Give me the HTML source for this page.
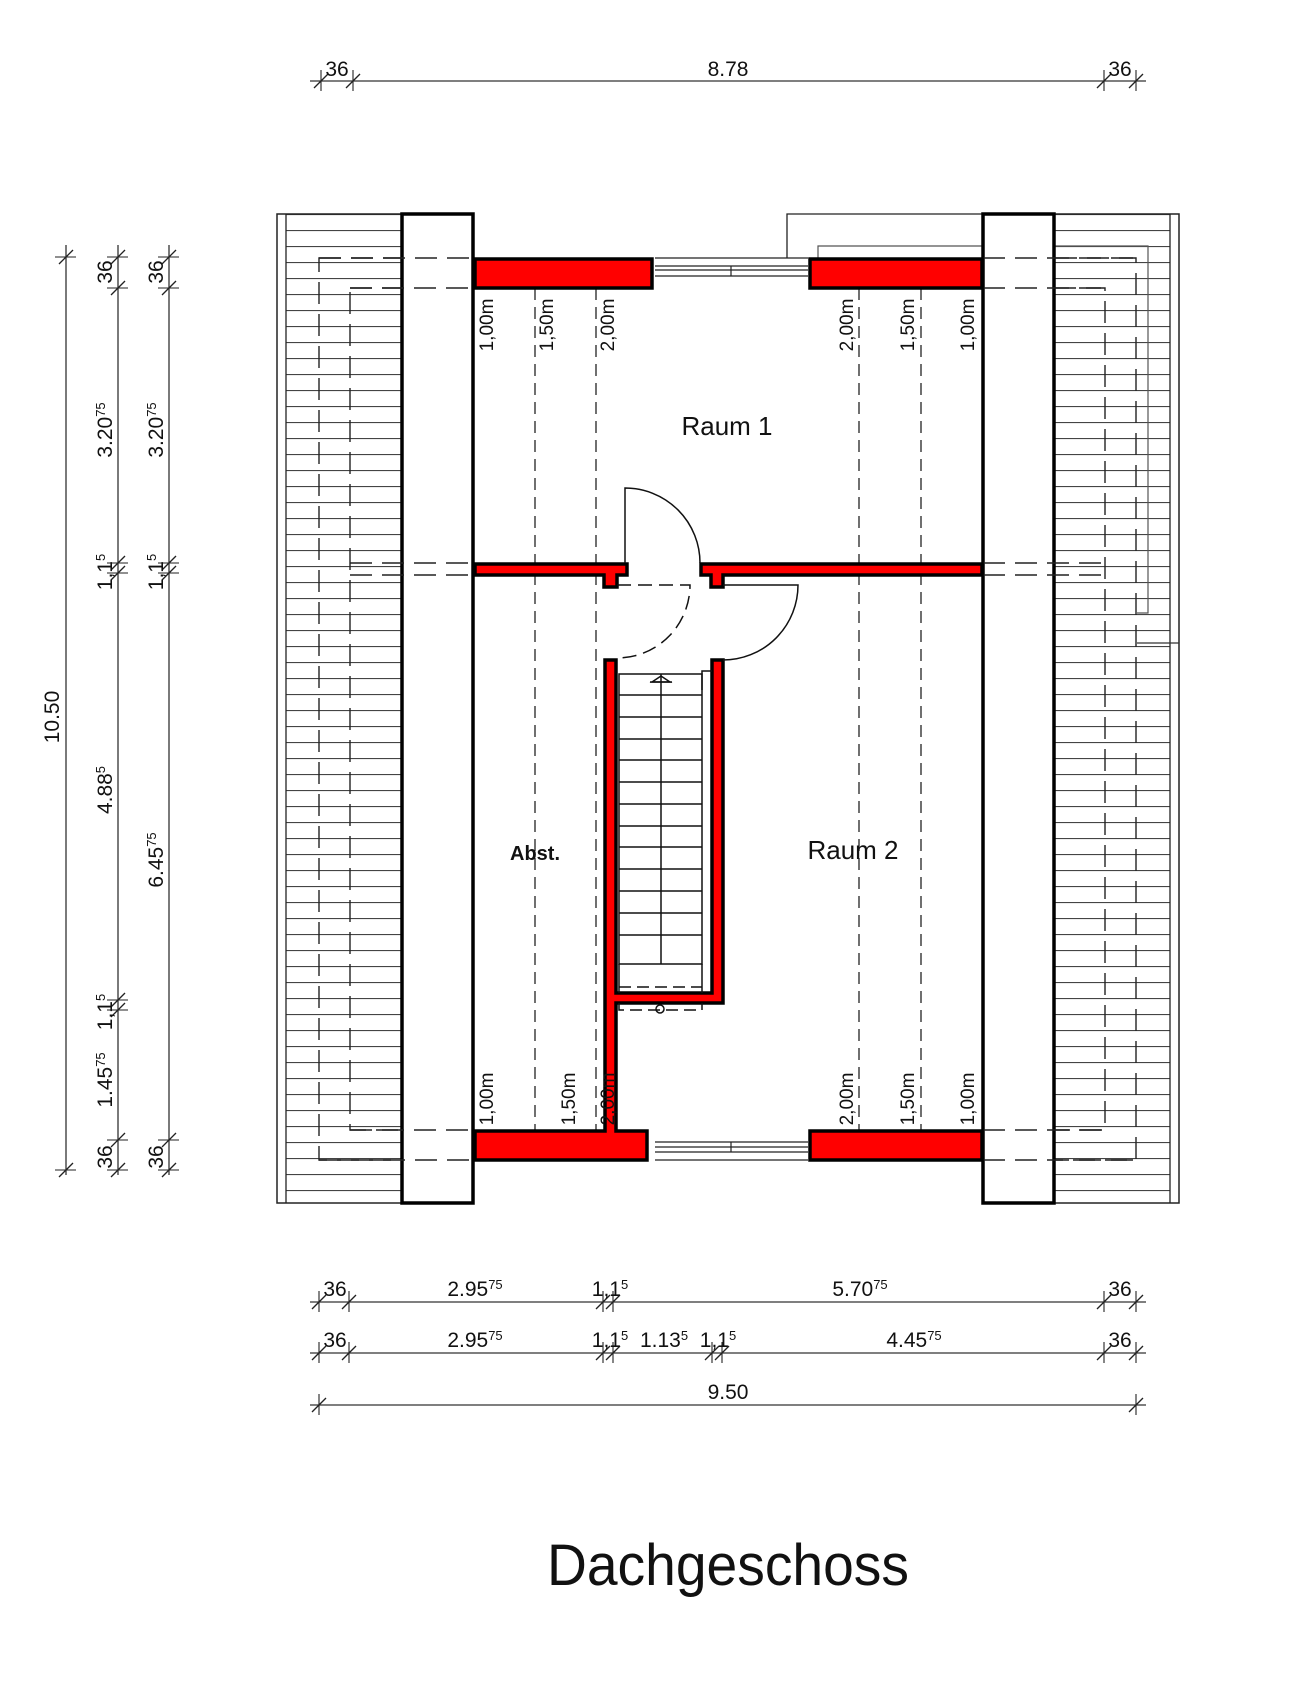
<!DOCTYPE html>
<html><head><meta charset="utf-8"><style>
html,body{margin:0;padding:0;background:#fff;}
svg{display:block}
text{font-family:"Liberation Sans Narrow","Liberation Sans",sans-serif;fill:#111;}
</style></head><body>
<svg width="1303" height="1700" viewBox="0 0 1303 1700" xmlns="http://www.w3.org/2000/svg">
<defs>
<pattern id="hatch" x="0" y="214" width="10" height="16" patternUnits="userSpaceOnUse">
<line x1="0" y1="0.5" x2="10" y2="0.5" stroke="#444" stroke-width="1.2"/>
</pattern>
<g id="tk"><line x1="-7" y1="7" x2="7" y2="-7" stroke="#222" stroke-width="1.3"/><line x1="0" y1="-11" x2="0" y2="10" stroke="#222" stroke-width="1.1"/></g>
<g id="tv"><line x1="-7" y1="7" x2="7" y2="-7" stroke="#222" stroke-width="1.3"/><line x1="-11" y1="0" x2="10" y2="0" stroke="#222" stroke-width="1.1"/></g>
</defs>

<!-- roofs -->
<rect x="277" y="214" width="125" height="989" fill="url(#hatch)"/>
<rect x="1054" y="214" width="125" height="989" fill="url(#hatch)"/>
<rect x="277" y="214" width="9" height="989" fill="#fff"/>
<rect x="1170" y="214" width="9" height="989" fill="#fff"/>
<rect x="277" y="214" width="125" height="989" fill="none" stroke="#222" stroke-width="1.5"/>
<line x1="286" y1="214" x2="286" y2="1203" stroke="#222" stroke-width="1.3"/>
<rect x="1054" y="214" width="125" height="989" fill="none" stroke="#222" stroke-width="1.5"/>
<line x1="1170" y1="214" x2="1170" y2="1203" stroke="#222" stroke-width="1.3"/>

<!-- dashed rects -->
<g fill="none" stroke="#222" stroke-width="1.4" stroke-dasharray="22,10">
<rect x="319" y="258" width="817" height="902"/>
<rect x="350" y="288" width="755" height="842"/>
</g>

<!-- interior white -->
<rect x="402" y="214" width="652" height="989" fill="#fff"/>

<!-- upper right outline -->
<polyline points="787,258 787,214 1054,214" fill="none" stroke="#222" stroke-width="1.3"/>
<polyline points="818,258 818,246 1148,246 1148,613 1137,613" fill="none" stroke="#555" stroke-width="1.2"/>
<line x1="1137" y1="643" x2="1179" y2="643" stroke="#333" stroke-width="1.2"/>

<!-- columns -->
<rect x="402" y="214" width="71" height="989" fill="#fff" stroke="#000" stroke-width="3.5"/>
<rect x="983" y="214" width="71" height="989" fill="#fff" stroke="#000" stroke-width="3.5"/>
<g stroke="#222" stroke-width="1.4" stroke-dasharray="22,10">
<line x1="319" y1="258" x2="473" y2="258"/><line x1="350" y1="288" x2="473" y2="288"/>
<line x1="983" y1="258" x2="1136" y2="258"/><line x1="983" y1="288" x2="1105" y2="288"/>
<line x1="319" y1="1160" x2="473" y2="1160"/><line x1="350" y1="1130" x2="473" y2="1130"/>
<line x1="983" y1="1160" x2="1136" y2="1160"/><line x1="983" y1="1130" x2="1105" y2="1130"/>
<line x1="350" y1="563" x2="473" y2="563"/><line x1="350" y1="575" x2="473" y2="575"/>
<line x1="983" y1="563" x2="1105" y2="563"/><line x1="983" y1="575" x2="1105" y2="575"/>
</g>

<!-- height dashed lines -->
<g stroke="#222" stroke-width="1.3" stroke-dasharray="12,7">
<line x1="535" y1="288" x2="535" y2="1130"/>
<line x1="596" y1="288" x2="596" y2="1130"/>
<line x1="859" y1="288" x2="859" y2="1130"/>
<line x1="921" y1="288" x2="921" y2="1130"/>
</g>

<!-- windows -->
<g stroke="#222" stroke-width="1.2" fill="none">
<line x1="655" y1="258" x2="808" y2="258"/>
<line x1="655" y1="266" x2="808" y2="266"/><line x1="655" y1="270" x2="808" y2="270"/><line x1="655" y1="276" x2="808" y2="276"/>
<line x1="731" y1="266" x2="731" y2="276"/>
<line x1="655" y1="1142" x2="808" y2="1142"/><line x1="655" y1="1147" x2="808" y2="1147"/><line x1="655" y1="1152" x2="808" y2="1152"/>
<line x1="655" y1="1160" x2="808" y2="1160"/>
<line x1="731" y1="1142" x2="731" y2="1152"/>
</g>

<!-- red walls -->
<g fill="#ff0000" stroke="#000" stroke-width="3.5">
<rect x="475" y="259" width="177" height="29"/>
<rect x="810" y="259" width="172" height="29"/>
<path d="M475,1131 L605,1131 L605,660 L616,660 L616,993 L712,993 L712,660 L723,660 L723,1003 L616,1003 L616,1131 L647,1131 L647,1160 L475,1160 Z"/>
<rect x="810" y="1131" width="172" height="29"/>
<path d="M475,564 L627,564 L627,575 L617,575 L617,587 L604,587 L604,575 L475,575 Z"/>
<path d="M701,564 L982,564 L982,575 L723,575 L723,587 L711,587 L711,575 L701,575 Z"/>
</g>

<!-- doors -->
<g fill="none" stroke="#111" stroke-width="1.5">
<path d="M625,563 L625,488 A75,75 0 0 1 700,563"/>
<path d="M723,585 L798,585 A75,75 0 0 1 723,660"/>
<path d="M617,585 L690,585 A73,73 0 0 1 617,658" stroke-dasharray="14,7"/>
</g>

<!-- stairs -->
<g stroke="#111" stroke-width="1.5" fill="none">
<rect x="619" y="674" width="83" height="290"/>
<line x1="661" y1="674" x2="661" y2="964"/>
<polyline points="702,690 702,671 712,671"/>
<line x1="619" y1="695" x2="702" y2="695"/><line x1="619" y1="717" x2="702" y2="717"/>
<line x1="619" y1="739" x2="702" y2="739"/><line x1="619" y1="760" x2="702" y2="760"/>
<line x1="619" y1="782" x2="702" y2="782"/><line x1="619" y1="804" x2="702" y2="804"/>
<line x1="619" y1="826" x2="702" y2="826"/><line x1="619" y1="847" x2="702" y2="847"/>
<line x1="619" y1="869" x2="702" y2="869"/><line x1="619" y1="891" x2="702" y2="891"/>
<line x1="619" y1="913" x2="702" y2="913"/><line x1="619" y1="935" x2="702" y2="935"/>
<line x1="619" y1="964" x2="619" y2="993"/><line x1="702" y1="964" x2="702" y2="993"/>
<line x1="619" y1="987" x2="702" y2="987" stroke-dasharray="12,6"/>
<path d="M619,1003 L619,1010 L702,1010 L702,1003" stroke-dasharray="12,6"/>
<path d="M652,682 L661,676 L670,682 Z"/><line x1="650" y1="682" x2="672" y2="682"/>
<circle cx="660" cy="1009" r="4"/>
</g>

<!-- height labels -->
<g font-size="19" text-anchor="middle">
<text transform="translate(493,325) rotate(-90)">1,00m</text>
<text transform="translate(553,325) rotate(-90)">1,50m</text>
<text transform="translate(614,325) rotate(-90)">2,00m</text>
<text transform="translate(853,325) rotate(-90)">2,00m</text>
<text transform="translate(914,325) rotate(-90)">1,50m</text>
<text transform="translate(974,325) rotate(-90)">1,00m</text>
<text transform="translate(493,1099) rotate(-90)">1,00m</text>
<text transform="translate(575,1099) rotate(-90)">1,50m</text>
<text transform="translate(614,1099) rotate(-90)">2,00m</text>
<text transform="translate(853,1099) rotate(-90)">2,00m</text>
<text transform="translate(914,1099) rotate(-90)">1,50m</text>
<text transform="translate(974,1099) rotate(-90)">1,00m</text>
</g>

<!-- room labels -->
<text x="727" y="435" font-size="26" text-anchor="middle">Raum  1</text>
<text x="853" y="859" font-size="26" text-anchor="middle">Raum  2</text>
<text x="535" y="860" font-size="20" font-weight="bold" text-anchor="middle">Abst.</text>

<!-- top dim -->
<line x1="310" y1="81" x2="1146" y2="81" stroke="#333" stroke-width="1.3"/>
<use href="#tk" x="321" y="81"/><use href="#tk" x="353" y="81"/><use href="#tk" x="1104" y="81"/><use href="#tk" x="1136" y="81"/>
<g font-size="21" text-anchor="middle">
<text x="337" y="76">36</text><text x="728" y="76">8.78</text><text x="1120" y="76">36</text>
</g>

<!-- bottom dims -->
<g stroke="#333" stroke-width="1.3">
<line x1="310" y1="1302" x2="1146" y2="1302"/>
<line x1="310" y1="1353" x2="1146" y2="1353"/>
<line x1="310" y1="1405" x2="1146" y2="1405"/>
</g>
<use href="#tk" x="319" y="1302"/><use href="#tk" x="349" y="1302"/><use href="#tk" x="603" y="1302"/><use href="#tk" x="613" y="1302"/><use href="#tk" x="1104" y="1302"/><use href="#tk" x="1136" y="1302"/>
<use href="#tk" x="319" y="1353"/><use href="#tk" x="349" y="1353"/><use href="#tk" x="603" y="1353"/><use href="#tk" x="613" y="1353"/><use href="#tk" x="712" y="1353"/><use href="#tk" x="722" y="1353"/><use href="#tk" x="1104" y="1353"/><use href="#tk" x="1136" y="1353"/>
<use href="#tk" x="319" y="1405"/><use href="#tk" x="1136" y="1405"/>
<g font-size="21" text-anchor="middle">
<text x="335" y="1296">36</text><text x="475" y="1296">2.95<tspan font-size="13" dy="-7">75</tspan></text>
<text x="610" y="1296">1,1<tspan font-size="13" dy="-7">5</tspan></text>
<text x="860" y="1296">5.70<tspan font-size="13" dy="-7">75</tspan></text>
<text x="1120" y="1296">36</text>
<text x="335" y="1347">36</text><text x="475" y="1347">2.95<tspan font-size="13" dy="-7">75</tspan></text>
<text x="610" y="1347">1,1<tspan font-size="13" dy="-7">5</tspan></text>
<text x="664" y="1347">1.13<tspan font-size="13" dy="-7">5</tspan></text>
<text x="718" y="1347">1,1<tspan font-size="13" dy="-7">5</tspan></text>
<text x="914" y="1347">4.45<tspan font-size="13" dy="-7">75</tspan></text>
<text x="1120" y="1347">36</text>
<text x="728" y="1399">9.50</text>
</g>

<!-- left dims -->
<g stroke="#333" stroke-width="1.3">
<line x1="66" y1="245" x2="66" y2="1175"/>
<line x1="118" y1="245" x2="118" y2="1175"/>
<line x1="169" y1="245" x2="169" y2="1175"/>
</g>
<use href="#tv" x="66" y="257"/><use href="#tv" x="66" y="1170"/>
<use href="#tv" x="118" y="257"/><use href="#tv" x="118" y="288"/><use href="#tv" x="118" y="563"/><use href="#tv" x="118" y="573"/><use href="#tv" x="118" y="1000"/><use href="#tv" x="118" y="1010"/><use href="#tv" x="118" y="1140"/><use href="#tv" x="118" y="1170"/>
<use href="#tv" x="169" y="257"/><use href="#tv" x="169" y="288"/><use href="#tv" x="169" y="563"/><use href="#tv" x="169" y="573"/><use href="#tv" x="169" y="1140"/><use href="#tv" x="169" y="1170"/>
<g font-size="21" text-anchor="middle">
<text transform="translate(59,717) rotate(-90)">10.50</text>
<text transform="translate(112,272) rotate(-90)">36</text>
<text transform="translate(112,430) rotate(-90)">3.20<tspan font-size="13" dy="-7">75</tspan></text>
<text transform="translate(112,572) rotate(-90)">1,1<tspan font-size="13" dy="-7">5</tspan></text>
<text transform="translate(112,790) rotate(-90)">4.88<tspan font-size="13" dy="-7">5</tspan></text>
<text transform="translate(112,1012) rotate(-90)">1,1<tspan font-size="13" dy="-7">5</tspan></text>
<text transform="translate(112,1080) rotate(-90)">1.45<tspan font-size="13" dy="-7">75</tspan></text>
<text transform="translate(112,1157) rotate(-90)">36</text>
<text transform="translate(163,272) rotate(-90)">36</text>
<text transform="translate(163,430) rotate(-90)">3.20<tspan font-size="13" dy="-7">75</tspan></text>
<text transform="translate(163,572) rotate(-90)">1,1<tspan font-size="13" dy="-7">5</tspan></text>
<text transform="translate(163,860) rotate(-90)">6.45<tspan font-size="13" dy="-7">75</tspan></text>
<text transform="translate(163,1157) rotate(-90)">36</text>
</g>

<!-- title -->
<text x="728" y="1585" font-size="58" text-anchor="middle" textLength="362" lengthAdjust="spacingAndGlyphs" style="font-family:'Liberation Sans',sans-serif">Dachgeschoss</text>
</svg>
</body></html>
